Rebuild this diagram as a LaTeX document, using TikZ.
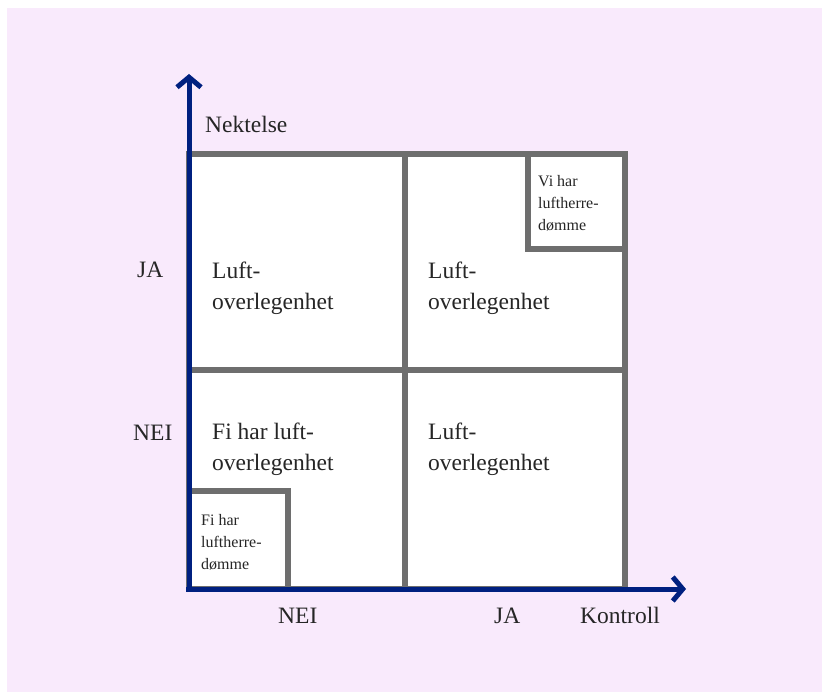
\documentclass[tikz,border=0pt]{standalone}
\usepackage{fontspec}
\setmainfont{Liberation Serif}
\usetikzlibrary{arrows.meta}
\definecolor{bgpink}{RGB}{249,234,252}
\definecolor{axisblue}{RGB}{0,32,128}
\definecolor{gridgray}{RGB}{110,110,110}
\definecolor{txtgray}{RGB}{38,38,38}
\begin{document}
\begin{tikzpicture}[x=1pt,y=-1pt,
  lbl/.style={font=\fontsize{23.5}{31}\selectfont, text=txtgray, inner sep=0pt, anchor=base west, align=left},
  smalllbl/.style={font=\fontsize{16}{22}\selectfont, text=txtgray, inner sep=0pt, anchor=base west, align=left},
  gridline/.style={draw=gridgray, line width=5.5pt},
  axisline/.style={draw=axisblue, line width=5pt, -{Straight Barb[length=10pt,width=24pt]}}]
\useasboundingbox (0,0) rectangle (822,692);
\fill[white] (0,0) rectangle (822,692);
\fill[bgpink] (7,8) rectangle (822,692);
% grid
\fill[white] (189,154) rectangle (625,589);
\draw[gridline] (189,154) rectangle (625,589);
\draw[gridline] (405,154) -- (405,589);
\draw[gridline] (189,370) -- (625,370);
\draw[gridline] (528,154) rectangle (625,249);
\draw[gridline] (189,491) rectangle (288,589);
% axes
\coordinate (origin) at (189,592);
\coordinate (ytip) at (189,74);
\coordinate (xstart) at (186,589);
\coordinate (xtip) at (686,589);
\draw[axisline] (origin) -- (ytip);
\draw[axisline] (xstart) -- (xtip);
% labels
\node[lbl] (nektelse) at (205,133) {Nektelse};
\node[lbl] (ja-y) at (137,278) {JA};
\node[lbl] (nei-y) at (133,440) {NEI};
\node[lbl] (nei-x) at (278,623) {NEI};
\node[lbl] (ja-x) at (494,623) {JA};
\node[lbl] (kontroll) at (580,623) {Kontroll};
% cells (base anchor = last line)
\node[lbl] (c11) at (212,310) {Luft-\\overlegenhet};
\node[lbl] (c12) at (428,310) {Luft-\\overlegenhet};
\node[lbl] (c21) at (212,470) {Fi har luft-\\overlegenhet};
\node[lbl] (c22) at (428,470) {Luft-\\overlegenhet};
\node[smalllbl] (vi) at (538,231) {Vi har\\luftherre-\\dømme};
\node[smalllbl] (fi) at (201,569) {Fi har\\luftherre-\\dømme};
\end{tikzpicture}
\end{document}
